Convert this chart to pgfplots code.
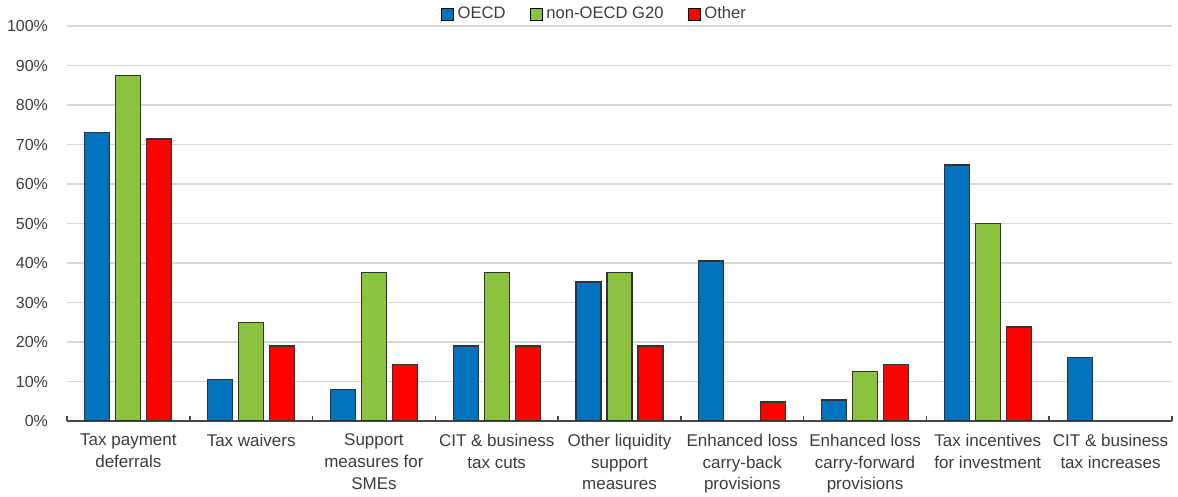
\documentclass[border=0pt]{standalone}
\usepackage{fontspec}
\setmainfont{Liberation Sans}
\usepackage{pgfplots}
\pgfplotsset{compat=1.18}

\definecolor{oecd}{RGB}{0,114,190}
\definecolor{nonoecd}{RGB}{140,196,64}
\definecolor{other}{RGB}{255,0,0}
\definecolor{txt}{RGB}{60,60,60}
\definecolor{gridgray}{RGB}{215,215,215}
\definecolor{axisgray}{RGB}{70,70,70}

\begin{document}
\begin{tikzpicture}
\begin{axis}[
  scale only axis,
  width=552.5pt, height=197.5pt,
  xmin=-0.5, xmax=8.5, ymin=0, ymax=100,
  ybar=3pt, bar width=12.5pt,
  axis x line*=bottom, axis y line*=left,
  x axis line style={-, color=axisgray, line width=0.8pt},
  y axis line style={draw=none},
  ytick={0,10,...,100},
  yticklabel={\pgfmathprintnumber{\tick}\%},
  /pgf/number format/assume math mode=true,
  yticklabel style={font=\fontsize{8}{9.6}\selectfont, color=txt, xshift=-6pt},
  ytick style={draw=none},
  ymajorgrids, grid style={color=gridgray, line width=0.75pt},
  xtick={0,...,8},
  xticklabels={{Tax payment\\deferrals},{Tax waivers},{Support\\measures for\\SMEs},{CIT \& business\\tax cuts},{Other liquidity\\support\\measures},{Enhanced loss\\carry-back\\provisions},{Enhanced loss\\carry-forward\\provisions},{Tax incentives\\for investment},{CIT \& business\\tax increases}},
  xticklabel style={font=\fontsize{8.5}{10.85}\selectfont, color=txt, align=center, yshift=-3pt},
  minor xtick={-0.5,0.5,...,8.5},
  major x tick style={draw=none},
  minor x tick style={color=axisgray, line width=0.8pt},
  minor tick length=2.5pt,
  tick align=inside,
  legend style={at={(0.338,1.03)}, anchor=west, draw=none, fill=none,
    font=\fontsize{8.3}{10}\selectfont, text=txt,
    legend columns=3,
    /tikz/every even column/.append style={column sep=10pt},
    inner xsep=0pt},
  legend cell align=left,
  legend image code/.code={\draw[#1, draw=black, line width=0.4pt] (0pt,-3pt) rectangle (6pt,3pt);},
]
\addplot[fill=oecd, draw=black!80, line width=0.6pt] coordinates {
  (0,73) (1,10.6) (2,8) (3,19) (4,35.2) (5,40.5) (6,5.3) (7,64.8) (8,16)};
\addplot[fill=nonoecd, draw=black!80, line width=0.6pt] coordinates {
  (0,87.5) (1,25) (2,37.5) (3,37.5) (4,37.5) (6,12.5) (7,50)};
\addplot[fill=other, draw=black!80, line width=0.6pt] coordinates {
  (0,71.4) (1,19) (2,14.3) (3,19) (4,19) (5,4.8) (6,14.3) (7,23.8)};
\legend{OECD, non-OECD G20, Other}
\end{axis}
\pgfresetboundingbox
\path (-33.5pt,-38pt) rectangle (555.5pt,210.5pt);
\end{tikzpicture}
\end{document}
